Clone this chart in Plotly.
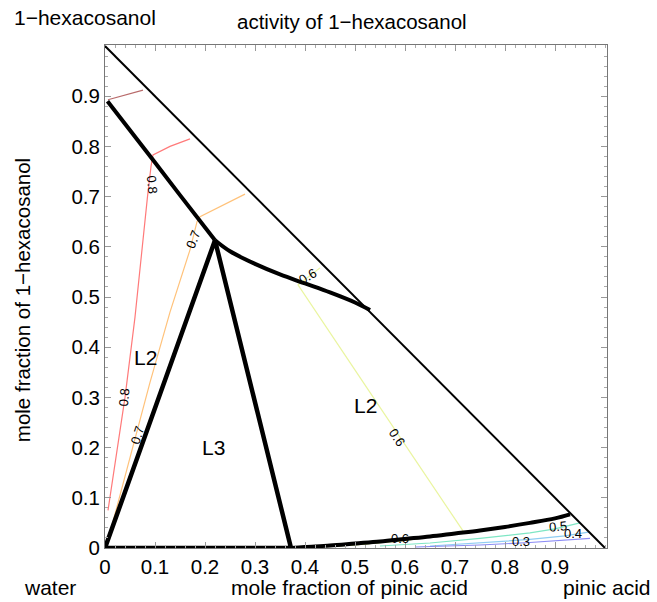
import plotly.graph_objects as go

# ---- data ----
tick_vals = [0, 0.1, 0.2, 0.3, 0.4, 0.5, 0.6, 0.7, 0.8, 0.9]
tick_text = ["0", "0.1", "0.2", "0.3", "0.4", "0.5", "0.6", "0.7", "0.8", "0.9"]

# composition triangle hypotenuse
hyp_x = [0.0, 1.0]
hyp_y = [1.0, 0.0]

# phase boundaries (thick black)
b1_x = [0.005, 0.05, 0.1, 0.15, 0.22]
b1_y = [0.89, 0.833, 0.768, 0.703, 0.613]
b2_x = [0.22, 0.25, 0.3, 0.35, 0.4, 0.45, 0.5, 0.53]
b2_y = [0.613, 0.591, 0.566, 0.545, 0.527, 0.509, 0.489, 0.474]
l3_x = [0.0, 0.22, 0.372, 0.0]
l3_y = [0.0, 0.613, 0.0, 0.0]
b3_x = [0.372, 0.4, 0.45, 0.5, 0.55, 0.6, 0.65, 0.7, 0.75, 0.8, 0.85, 0.9, 0.93]
b3_y = [0.0, 0.002, 0.005, 0.009, 0.013, 0.018, 0.023, 0.029, 0.035, 0.042, 0.05, 0.059, 0.067]

# activity contours
c09_x = [0.006, 0.04, 0.076]
c09_y = [0.893, 0.902, 0.912]
c08_x = [0.17, 0.13, 0.096, 0.092, 0.085, 0.075, 0.06, 0.04, 0.02, 0.006]
c08_y = [0.815, 0.80, 0.783, 0.76, 0.70, 0.60, 0.46, 0.30, 0.17, 0.075]
c07_x = [0.28, 0.23, 0.19, 0.184, 0.17, 0.13, 0.09, 0.05, 0.01]
c07_y = [0.705, 0.68, 0.66, 0.65, 0.594, 0.47, 0.33, 0.18, 0.03]
c06a_x = [0.43, 0.386, 0.55, 0.716]
c06a_y = [0.558, 0.524, 0.28, 0.034]
c06b_x = [0.41, 0.5, 0.6, 0.716]
c06b_y = [0.001, 0.006, 0.015, 0.031]
c05_x = [0.55, 0.65, 0.75, 0.85, 0.9, 0.95]
c05_y = [0.004, 0.01, 0.019, 0.03, 0.038, 0.05]
c04_x = [0.65, 0.75, 0.85, 0.92, 0.97]
c04_y = [0.004, 0.01, 0.017, 0.024, 0.032]
c03_x = [0.62, 0.75, 0.85, 0.93, 0.97]
c03_y = [0.002, 0.006, 0.011, 0.016, 0.019]

# contour labels: text, x, y, angle
lab_text = ["0.8", "0.8", "0.7", "0.7", "0.6", "0.6", "0.6", "0.5", "0.4", "0.3"]
lab_x = [0.095, 0.038, 0.176, 0.064, 0.405, 0.584, 0.59, 0.905, 0.935, 0.832]
lab_y = [0.725, 0.30, 0.615, 0.225, 0.54, 0.22, 0.018, 0.042, 0.028, 0.012]
lab_ang = [84, -84, -68, -72, -30, 56, 0, -5, 0, 0]

# region labels
reg_text = ["L2", "L3", "L2"]
reg_x = [0.08, 0.216, 0.52]
reg_y = [0.38, 0.20, 0.283]

FONT = "Liberation Sans, Arial, Helvetica, sans-serif"

fig = go.Figure()

def line(x, y, color, width, shape="linear"):
    fig.add_trace(go.Scatter(x=x, y=y, mode="lines",
                             line=dict(color=color, width=width, shape=shape),
                             hoverinfo="skip", showlegend=False))

line(c09_x, c09_y, "#b86a6a", 1.2)
line(c08_x, c08_y, "#ff7a7a", 1.2)
line(c07_x, c07_y, "#ffc27a", 1.2)
line(c06a_x, c06a_y, "#eaf5a0", 1.2)
line(c06b_x, c06b_y, "#8fae3a", 1.2)
line(c05_x, c05_y, "#7ee6c4", 1.2)
line(c04_x, c04_y, "#8fcdf2", 1.2)
line(c03_x, c03_y, "#8c8cf5", 1.2)

line(hyp_x, hyp_y, "black", 2)
line(b1_x, b1_y, "black", 4)
line(b2_x, b2_y, "black", 4, "spline")
line(l3_x, l3_y, "black", 4.5)
line(b3_x, b3_y, "black", 4, "spline")

for t, x, y, a in zip(lab_text, lab_x, lab_y, lab_ang):
    fig.add_annotation(x=x, y=y, xref="x", yref="y", text=t, showarrow=False,
                       textangle=a, font=dict(family=FONT, size=13, color="black"))

for t, x, y in zip(reg_text, reg_x, reg_y):
    fig.add_annotation(x=x, y=y, xref="x", yref="y", text=t, showarrow=False,
                       font=dict(family=FONT, size=21, color="black"))

# corner / title labels
def ptext(t, px, py, size, angle=0):
    fig.add_annotation(x=px, y=py, xref="paper", yref="paper", text=t, showarrow=False,
                       textangle=angle, xanchor="center", yanchor="middle",
                       font=dict(family=FONT, size=size, color="black"))

ptext("1\u2212hexacosanol", -0.04, 1.054, 21)
ptext("activity of 1\u2212hexacosanol", 0.492, 1.046, 20.5)
ptext("mole fraction of 1\u2212hexacosanol", -0.165, 0.493, 20.5, -90)
ptext("mole fraction of pinic acid", 0.488, -0.078, 21)
ptext("water", -0.11, -0.078, 21)
ptext("pinic acid", 1.0, -0.078, 21)

axis_common = dict(
    tickvals=tick_vals, ticktext=tick_text, ticks="inside", ticklen=6, tickwidth=1,
    tickcolor="#999", showline=True, linecolor="#777", linewidth=1, mirror="ticks",
    showgrid=False, zeroline=False, tickfont=dict(family=FONT, size=20.5, color="black"),
    minor=dict(dtick=0.02, ticks="inside", ticklen=3, tickcolor="#aaa", tick0=0),
)
fig.update_xaxes(range=[0, 1.004], **axis_common)
fig.update_yaxes(range=[0, 1.002], **axis_common)

fig.update_layout(
    width=657, height=602, margin=dict(l=105, r=50, t=45, b=54),
    plot_bgcolor="white", paper_bgcolor="white", showlegend=False,
)

fig.write_html("out.html")
